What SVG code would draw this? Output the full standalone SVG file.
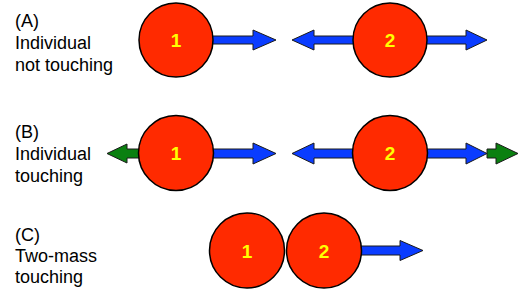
<svg xmlns="http://www.w3.org/2000/svg" width="519" height="297" viewBox="0 0 519 297">
<style>
.lbl{font-family:"Liberation Sans",Arial,sans-serif;font-size:18px;fill:#000}
.ball{fill:#ff2a00;stroke:#000;stroke-width:1.5}
.num{font-family:"Liberation Sans",Arial,sans-serif;font-size:19px;font-weight:bold;fill:#ffff00;text-anchor:middle}
.blue{fill:#0a3cff;stroke:#1a1a1a;stroke-width:1}
.green{fill:#0a8010;stroke:#1a1a1a;stroke-width:1}
</style>
<rect width="519" height="297" fill="#fff"/>
<g id="labels">
<text class="lbl" x="15" y="27">(A)</text>
<text class="lbl" x="15" y="49">Individual</text>
<text class="lbl" x="15" y="71">not touching</text>
<text class="lbl" x="15" y="138">(B)</text>
<text class="lbl" x="15" y="160">Individual</text>
<text class="lbl" x="15" y="182">touching</text>
<text class="lbl" x="15" y="241">(C)</text>
<text class="lbl" x="15" y="262">Two-mass</text>
<text class="lbl" x="15" y="283">touching</text>
</g>
<g id="arrows">
<polygon class="blue" points="176,36 253,36 253,30 276,40 253,50 253,44 176,44"/>
<polygon class="blue" points="292,40 314,30 314,36 466,36 466,30 487,40 466,50 466,44 314,44 314,50"/>
<polygon class="green" points="176,149 127,149 127,144 107,153.5 127,163 127,158 176,158"/>
<polygon class="blue" points="176,149 253,149 253,143 276,153.5 253,164 253,158 176,158"/>
<polygon class="blue" points="292,153.5 314,143 314,149 466,149 466,143 487,153.5 466,164 466,158 314,158 314,164"/>
<polygon class="green" points="487,149 496,149 496,143 518,153.5 496,164 496,158 487,158"/>
<polygon class="blue" points="324,246 400,246 400,240.5 423,250.5 400,260.5 400,255 324,255"/>
</g>
<g id="nodeA1"><circle class="ball" cx="176" cy="40" r="37"/><text class="num" x="176" y="47">1</text></g>
<g id="nodeA2"><circle class="ball" cx="390" cy="40" r="37"/><text class="num" x="390" y="47">2</text></g>
<g id="nodeB1"><circle class="ball" cx="176" cy="153" r="37.5"/><text class="num" x="176" y="160">1</text></g>
<g id="nodeB2"><circle class="ball" cx="390" cy="153" r="37.5"/><text class="num" x="390" y="160">2</text></g>
<g id="nodeC1"><circle class="ball" cx="247" cy="250.5" r="37.5"/><text class="num" x="247" y="257.5">1</text></g>
<g id="nodeC2"><circle class="ball" cx="324" cy="250.5" r="37.5"/><text class="num" x="324" y="257.5">2</text></g>
</svg>
